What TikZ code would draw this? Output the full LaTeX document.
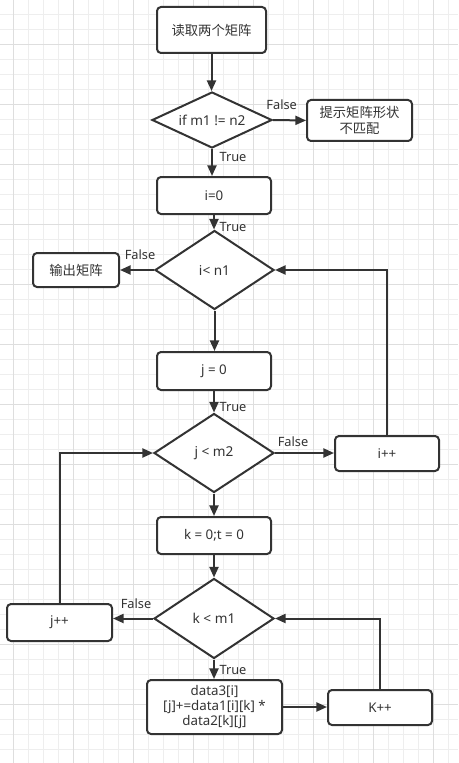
\documentclass[tikz,border=0pt]{standalone}
\usepackage{fontspec}
\setmainfont{Noto Sans}
\newfontfamily\cjk{Noto Sans CJK SC}
\usetikzlibrary{shapes.geometric,arrows.meta}
\definecolor{ln}{HTML}{333333}
\definecolor{tx}{HTML}{333333}
\definecolor{gmin}{HTML}{EEEEEE}
\definecolor{gmaj}{HTML}{DEDEDE}
\begin{document}
\begin{tikzpicture}[x=0.75pt,y=-0.75pt,
  sz/.style 2 args={minimum width=#1*0.75pt, minimum height=#2*0.75pt},
  box/.style={draw=ln,line width=1.5pt,rounded corners=3pt,fill=white,inner sep=0pt,
    text=tx,align=center,font=\fontsize{10pt}{11.6pt}\selectfont},
  dia/.style={diamond,draw=ln,line width=1.5pt,fill=white,inner sep=0pt,aspect=2.2,
    text=tx,font=\fontsize{10.2pt}{11.6pt}\selectfont},
  arr/.style={draw=ln,line width=1.5pt,-{Triangle[length=8pt,width=6.8pt]}},
  lab/.style={text=tx,inner sep=0pt,font=\fontsize{9.6pt}{10pt}\selectfont}
]
\useasboundingbox (0,0) rectangle (458,763);
\fill[white] (0,0) rectangle (458,763);
% grid
\foreach \k in {0,...,31} {
  \draw[gmin,line width=0.75pt] (-1.67+15*\k,0) -- (-1.67+15*\k,763);
}
\foreach \k in {0,...,51} {
  \draw[gmin,line width=0.75pt] (0,-0.67+15*\k) -- (458,-0.67+15*\k);
}
\foreach \k in {0,...,7} {
  \draw[gmaj,line width=0.75pt] (13.33+60*\k,0) -- (13.33+60*\k,763);
}
\foreach \k in {-1,...,12} {
  \draw[gmaj,line width=0.75pt] (0,44.33+60*\k) -- (458,44.33+60*\k);
}
% nodes
\node[box,sz={109}{46}] (b1) at (211.5,30) {\cjk 读取两个矩阵};
\node[dia,sz={120}{56}] (d1) at (212,120) {if m1 != n2};
\node[box,sz={105}{41}] (b2) at (359.5,120.5) {\cjk 提示矩阵形状\\\cjk 不匹配};
\node[box,sz={114}{37}] (b3) at (214,195.5) {i=0};
\node[dia,sz={119}{79}] (d2) at (214.5,270) {i<\ n1};
\node[box,sz={86}{34}] (out) at (76,270) {\cjk 输出矩阵};
\node[box,sz={114}{38}] (j0) at (214,371) {j = 0};
\node[dia,sz={120}{79}] (d3) at (214,453) {j < m2};
\node[box,sz={104}{35}] (ipp) at (387,453.5) {i++};
\node[box,sz={114}{37}] (k0) at (214,535.5) {k = 0;t = 0};
\node[dia,sz={120}{80}] (d4) at (214,618.5) {k < m1};
\node[box,sz={105}{37}] (jpp) at (59.5,622.5) {j++};
\node[box,sz={135}{54}] (data) at (214.5,707) {data3[i]\\{}[j]+=data1[i][k] *\\data2[k][j]};
\node[box,sz={104}{35}] (Kpp) at (380,707.5) {K++};
% edges
\draw[arr] (b1.south) -- (b1.south |- d1.north);
\draw[arr] (d1.east) -- (b2.west);
\draw[arr] (d1.south) -- (d1.south |- b3.north);
\draw[arr] (b3.south) -- (b3.south |- d2.north);
\draw[arr] (d2.west) -- (out.east);
\draw[arr] (d2.south) -- (d2.south |- j0.north);
\draw[arr] (j0.south) -- (j0.south |- d3.north);
\draw[arr] (d3.east) -- (d3.east -| ipp.west);
\draw[arr] (d3.south) -- (d3.south |- k0.north);
\draw[arr] (k0.south) -- (k0.south |- d4.north);
\draw[arr] (d4.west) -- (d4.west -| jpp.east);
\draw[arr] (d4.south) -- (d4.south |- data.north);
\draw[arr] (data.east) -- (data.east -| Kpp.west);
\draw[arr] (Kpp.north) |- (d4.east);
\draw[arr] (jpp.north) |- (d3.west);
\draw[arr] (ipp.north) |- (d2.east);
% labels
\node[lab] (lf1) at (281.7,105) {False};
\node[lab] (lt1) at (233,156.7) {True};
\node[lab] (lt2) at (233,226.7) {True};
\node[lab] (lf2) at (140,255) {False};
\node[lab] (lt3) at (233,406.7) {True};
\node[lab] (lf3) at (293,441.7) {False};
\node[lab] (lf4) at (136,603.3) {False};
\node[lab] (lt4) at (233,670) {True};
\end{tikzpicture}
\end{document}
